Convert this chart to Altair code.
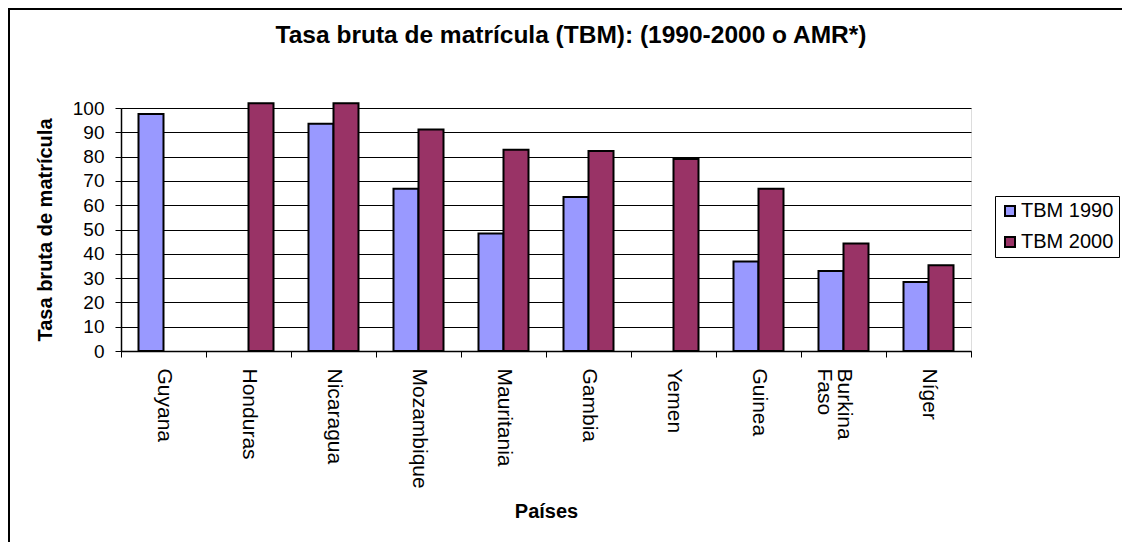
import altair as alt
import pandas as pd

countries = ["Guyana", "Honduras", "Nicaragua", "Mozambique", "Mauritania",
             "Gambia", "Yemen", "Guinea", "Burkina Faso", "Níger"]
tbm_1990 = [97.5, None, 93.5, 66.8, 48.4, 63.4, None, 36.8, 32.9, 28.4]
tbm_2000 = [None, 102, 102, 91.2, 82.8, 82.3, 79.0, 66.8, 44.2, 35.3]
series = ["TBM 1990", "TBM 2000"]
colors = ["#9999FF", "#993366"]
title_text = "Tasa bruta de matrícula (TBM): (1990-2000 o AMR*)"

rows = []
for c, a, b in zip(countries, tbm_1990, tbm_2000):
    if a is not None:
        rows.append({"country": c, "series": series[0], "value": a})
    if b is not None:
        rows.append({"country": c, "series": series[1], "value": b})
df = pd.DataFrame(rows)

FONT = "Liberation Sans"
W, H = 850, 243
PAD_L, PAD_T = 113, 100
TOT_W, TOT_H = 1114, 534

frame = alt.Chart(pd.DataFrame({"k": [0]})).mark_rect(
    fill=None, stroke="black", strokeWidth=2
).encode(
    x=alt.value(-PAD_L + 1), x2=alt.value(TOT_W - PAD_L + 20),
    y=alt.value(-PAD_T + 1), y2=alt.value(TOT_H - PAD_T + 20),
)

title = alt.Chart(pd.DataFrame({"t": [title_text]})).mark_text(
    font=FONT, fontSize=24.5, fontWeight="bold", color="black",
    align="center", baseline="alphabetic"
).encode(text="t:N", x=alt.value(450), y=alt.value(-65))

bars = alt.Chart(df).mark_bar(stroke="black", strokeWidth=2, clip=False).encode(
    x=alt.X("country:N", sort=countries,
            scale=alt.Scale(paddingInner=0, paddingOuter=0),
            axis=alt.Axis(title="Países", titleFont=FONT, titleFontSize=20,
                          titleFontWeight="bold", titleColor="black",
                          titleX=W / 2, titleY=160, titleBaseline="middle",
                          labelAngle=90, labelFont=FONT, labelFontSize=21,
                          labelColor="black", labelPadding=11,
                          labelExpr="datum.value == 'Burkina Faso' ? ['Burkina', 'Faso'] : datum.value",
                          tickBand="extent", tickSize=6, tickColor="black",
                          domainColor="black", domainWidth=1.5, grid=False,
                          labelLineHeight=20)),
    xOffset=alt.XOffset("series:N", sort=series,
                        scale=alt.Scale(paddingInner=0, paddingOuter=0.7)),
    y=alt.Y("value:Q", scale=alt.Scale(domain=[0, 100], nice=False, clamp=False),
            axis=alt.Axis(title="Tasa bruta de matrícula", titleFont=FONT,
                          titleFontSize=20, titleFontWeight="bold",
                          titleColor="black", titleX=-76, titleY=H / 2,
                          titleAngle=-90, titleBaseline="middle", titleAlign="center",
                          values=list(range(0, 101, 10)), labelFont=FONT,
                          labelFontSize=19, labelColor="black", labelPadding=11,
                          tickSize=6, tickColor="black", domainColor="black",
                          domainWidth=1.5, grid=True, gridColor="black",
                          gridWidth=1)),
    color=alt.Color("series:N", sort=series,
                    scale=alt.Scale(domain=series, range=colors),
                    legend=alt.Legend(title=None, orient="none",
                                      legendX=874, legendY=88,
                                      symbolType="square", symbolSize=100,
                                      symbolStrokeColor="black",
                                      symbolStrokeWidth=2, labelFont=FONT,
                                      labelFontSize=20, labelColor="black",
                                      labelOffset=1, rowPadding=11,
                                      strokeColor="black", fillColor="white",
                                      padding=5, cornerRadius=0)),
)

chart = alt.layer(bars, title, frame).properties(
    width=W, height=H,
    autosize=alt.AutoSizeParams(type="none"),
    padding={"left": PAD_L, "top": PAD_T, "right": TOT_W - PAD_L - W,
             "bottom": TOT_H - PAD_T - H},
).configure_view(fill="#C0C0C0", stroke="#808080", strokeWidth=1.5
).configure(background="white")

chart.save("out.html", embed_options={"renderer": "svg", "actions": False})
